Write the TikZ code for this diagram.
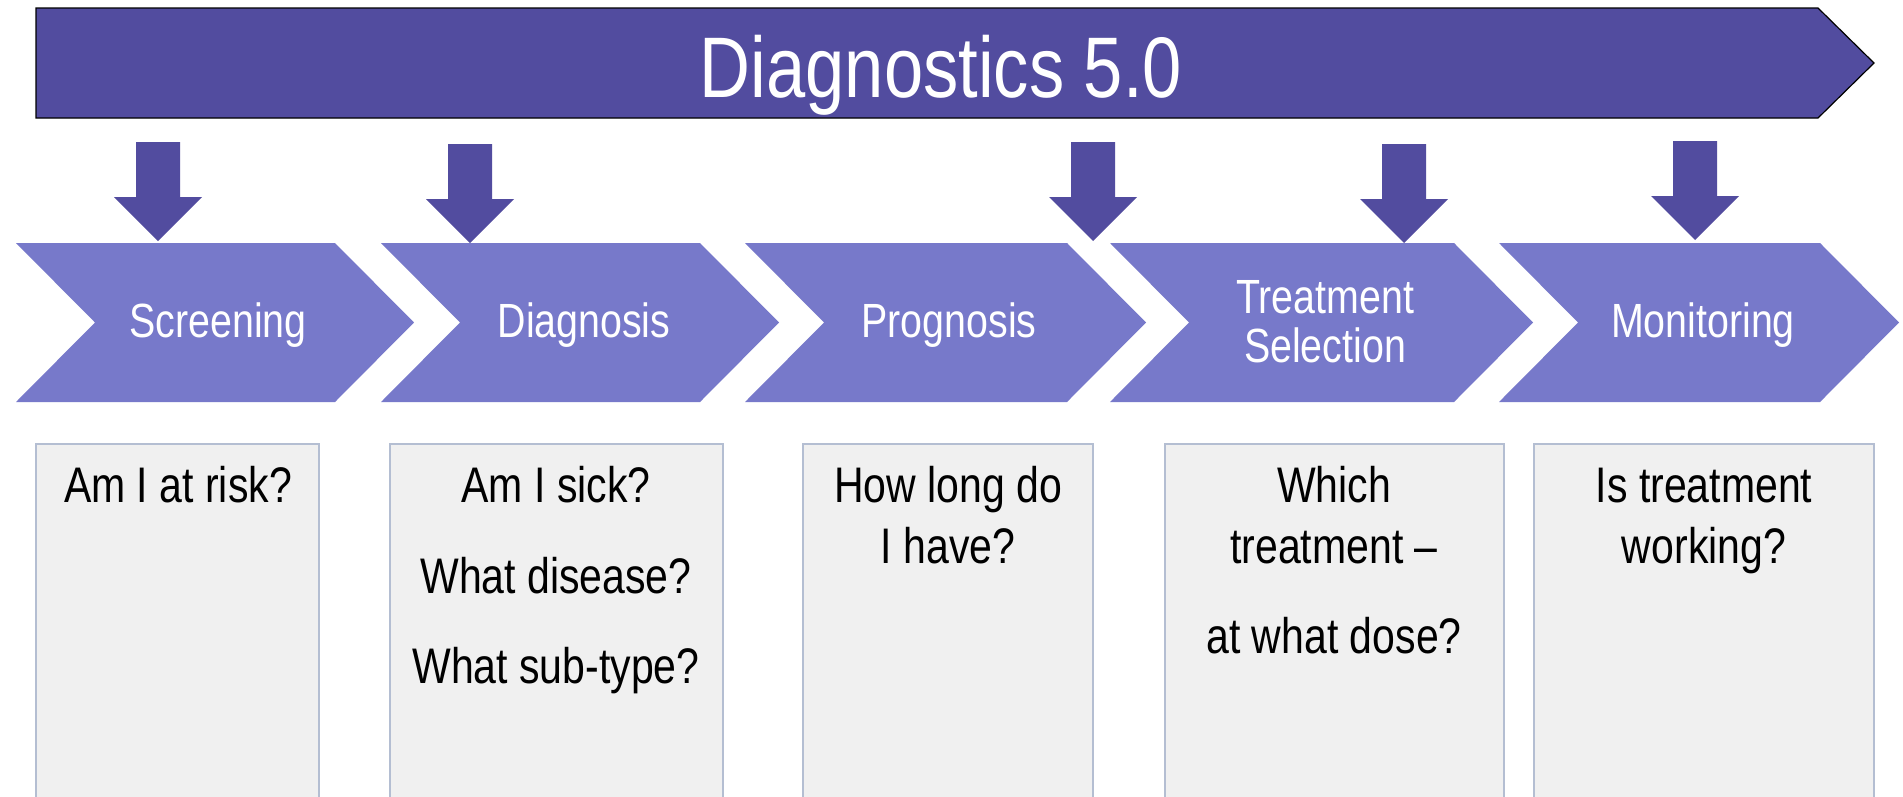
\documentclass[tikz,border=0pt]{standalone}
\usepackage{fontspec}
\setmainfont{Liberation Sans}[FakeStretch=0.82]
\definecolor{bannercol}{HTML}{524C9F}
\definecolor{chevcol}{HTML}{7779CA}
\definecolor{boxfill}{HTML}{F0F0F0}
\definecolor{boxline}{HTML}{B4BED2}
\tikzset{
  titletext/.style={anchor=base, text=white, font=\fontsize{86}{90}\selectfont, inner sep=0pt},
  chevtext/.style={anchor=base, text=white, font=\fontsize{48}{50}\selectfont, inner sep=0pt},
  qtext/.style={anchor=base, text=black, font=\fontsize{50}{52}\selectfont, inner sep=0pt},
  qbox/.style={fill=boxfill, draw=boxline, line width=2pt},
  chevshape/.style={fill=chevcol},
  downarr/.style={fill=bannercol},
}
\newcommand\dnarr[3]{\fill[downarr] (#1-22,#2) -- (#1+22,#2) -- (#1+22,#3-44) -- (#1+44,#3-44) -- (#1,#3) -- (#1-44,#3-44) -- (#1-22,#3-44) -- cycle;}
\newcommand\chevron[2]{\fill[chevshape] (#1,243) -- (#2,243) -- (#2+79,322.5) -- (#2,402) -- (#1,402) -- (#1+79,322.5) -- cycle;}
\begin{document}
\begin{tikzpicture}[x=1pt,y=-1pt]
\useasboundingbox (0,0) rectangle (1903,796);
\fill[white] (0,0) rectangle (1903,796);
% banner
\draw[fill=bannercol, draw=black, line width=1.2pt] (36,8) -- (1818,8) -- (1874,63) -- (1818,118) -- (36,118) -- cycle;
\node[titletext] (title) at (941,97) {Diagnostics 5.0};
% down arrows
\dnarr{158}{142}{241}
\dnarr{470}{144}{243}
\dnarr{1093}{142}{241}
\dnarr{1404}{144}{243}
\dnarr{1695}{141}{240}
% chevrons
\chevron{16}{335}
\chevron{381}{700}
\chevron{745}{1067}
\chevron{1110}{1454}
\chevron{1499}{1820}
\node[chevtext] (screening) at (218,337) {Screening};
\node[chevtext] (diagnosis) at (584,337) {Diagnosis};
\node[chevtext] (prognosis) at (949,337) {Prognosis};
\node[chevtext] (treatment) at (1325,313) {Treatment};
\node[chevtext] (selection) at (1325,362) {Selection};
\node[chevtext] (monitoring) at (1703,337) {Monitoring};
% boxes
\draw[qbox] (36,444) rectangle (319,812);
\draw[qbox] (390,444) rectangle (723,812);
\draw[qbox] (803,444) rectangle (1093,812);
\draw[qbox] (1165,444) rectangle (1504,812);
\draw[qbox] (1534,444) rectangle (1874,812);
\node[qtext] (q1a) at (178,502) {Am I at risk?};
\node[qtext] (q2a) at (556,502) {Am I sick?};
\node[qtext] (q2b) at (556,593) {What disease?};
\node[qtext] (q2c) at (556,683) {What sub-type?};
\node[qtext] (q3a) at (948,502) {How long do};
\node[qtext] (q3b) at (948,563) {I have?};
\node[qtext] (q4a) at (1334,502) {Which};
\node[qtext] (q4b) at (1334,563) {treatment –};
\node[qtext] (q4c) at (1334,653) {at what dose?};
\node[qtext] (q5a) at (1704,502) {Is treatment};
\node[qtext] (q5b) at (1704,563) {working?};
\end{tikzpicture}
\end{document}
